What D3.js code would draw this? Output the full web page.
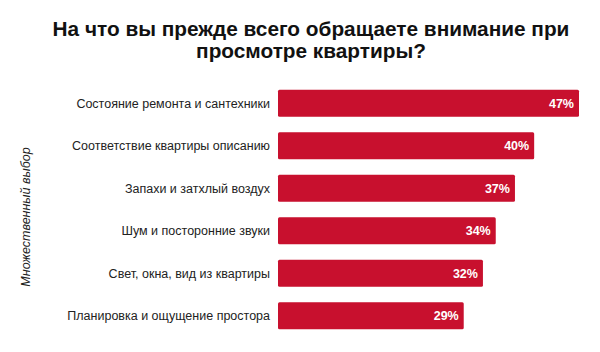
<!DOCTYPE html>
<html>
<head>
<meta charset="utf-8">
<script src="https://cdn.jsdelivr.net/npm/d3@7"></script>
<style>
  body { margin: 0; background: #fff; }
  svg { display: block; font-family: "Liberation Sans", Arial, sans-serif; }
</style>
</head>
<body>
<svg width="600" height="352"></svg>
<script>
// данные с картинки
var categories = [
  "Состояние ремонта и сантехники",
  "Соответствие квартиры описанию",
  "Запахи и затхлый воздух",
  "Шум и посторонние звуки",
  "Свет, окна, вид из квартиры",
  "Планировка и ощущение простора"
];
var values = [47, 40, 37, 34, 32, 29];
var titleLines = ["На что вы прежде всего обращаете внимание при", "просмотре квартиры?"];
var axisTitle = "Множественный выбор";

var svg = d3.select("svg");
var red = "#c8102e";

var x = d3.scaleLinear().domain([0, 47]).range([278, 579]);
var y = d3.scaleBand().domain(categories).range([82, 337]).paddingInner(0.36).paddingOuter(0.18);

// titre
svg.append("text")
  .attr("x", 311).attr("y", 36)
  .attr("text-anchor", "middle")
  .style("font-size", "20.8px").style("font-weight", "bold").style("fill", "#111")
  .selectAll("tspan").data(titleLines).enter().append("tspan")
  .attr("x", 311).attr("dy", function(d, i) { return i ? 22 : 0; })
  .text(function(d) { return d; });

var rows = svg.append("g").selectAll("g")
  .data(categories).enter().append("g");

rows.append("rect")
  .attr("x", x(0))
  .attr("y", function(d) { return y(d); })
  .attr("width", function(d, i) { return x(values[i]) - x(0); })
  .attr("height", y.bandwidth())
  .attr("rx", 1.5)
  .style("fill", red);

rows.append("text")
  .attr("x", 270)
  .attr("y", function(d) { return y(d) + y.bandwidth() / 2; })
  .attr("dy", "0.35em")
  .attr("text-anchor", "end")
  .style("font-size", "12.5px").style("fill", "#222")
  .text(function(d) { return d; });

rows.append("text")
  .attr("x", function(d, i) { return x(values[i]) - 5; })
  .attr("y", function(d) { return y(d) + y.bandwidth() / 2; })
  .attr("dy", "0.35em")
  .attr("text-anchor", "end")
  .style("font-size", "12.5px").style("font-weight", "bold").style("fill", "#fff")
  .text(function(d, i) { return values[i] + "%"; });

svg.append("text")
  .attr("transform", "translate(30,217) rotate(-90)")
  .attr("text-anchor", "middle")
  .style("font-size", "12.5px").style("font-style", "italic").style("fill", "#222")
  .text(axisTitle);
</script>
</body>
</html>
